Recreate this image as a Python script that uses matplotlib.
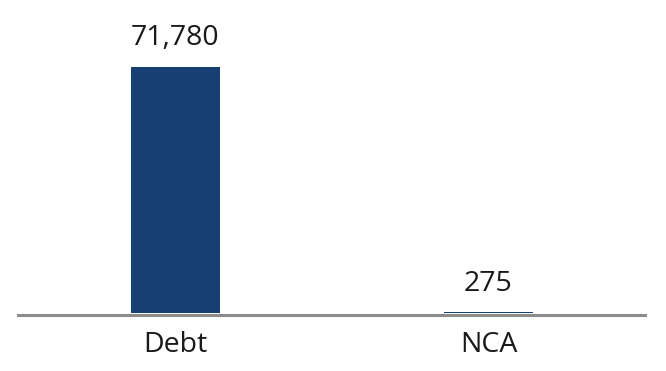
import matplotlib.pyplot as plt

categories = ["Debt", "NCA"]
values = [71780, 275]
value_labels = ["71,780", "275"]

bar_color = "#173f74"
axis_color = "#8c8c8c"

plt.rcParams['font.family'] = ['Open Sans', 'DejaVu Sans']

fig = plt.figure(figsize=(6.66, 3.71), dpi=100)
ax = fig.add_axes([18 / 666, 57.7 / 371, 627 / 666, 313.3 / 371])

# grey baseline sits just under the bars (set first: moving a spine resets its ticks)
for side in ["top", "right", "left"]:
    ax.spines[side].set_visible(False)
ax.spines["bottom"].set_position(("outward", 1.1))
ax.spines["bottom"].set_color(axis_color)
ax.spines["bottom"].set_linewidth(2.2)

x = range(len(categories))
bars = ax.bar(x, values, width=0.284, color=bar_color, zorder=3)

for rect, label in zip(bars, value_labels):
    ax.annotate(label, (rect.get_x() + rect.get_width() / 2, rect.get_height()),
                xytext=(0, 15.6), textcoords="offset points",
                ha="center", va="baseline", fontsize=20.5, color="#1a1a1a")

ax.set_xlim(-0.503, 1.5)
ax.set_ylim(0, 71780 * 313.3 / 246.6)
ax.set_xticks(list(x))
ax.set_xticklabels(categories, fontsize=20.5, color="#1a1a1a")
ax.tick_params(axis="x", length=0, pad=12)
ax.set_yticks([])

fig.savefig("out.png", dpi=100)
